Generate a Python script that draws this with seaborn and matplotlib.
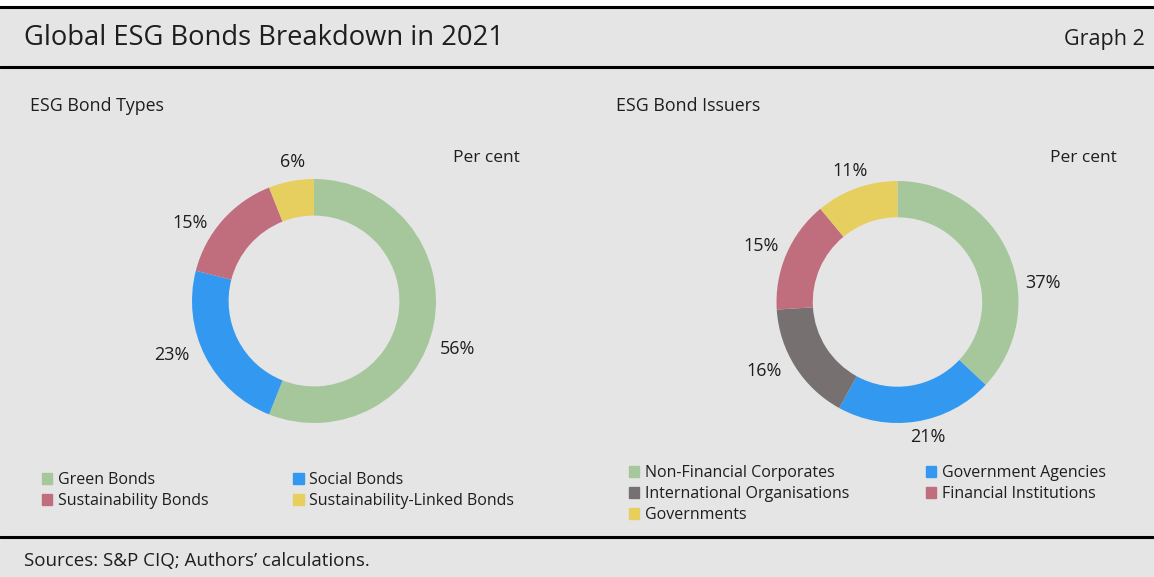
import numpy as np
import matplotlib
matplotlib.use("Agg")
import matplotlib.pyplot as plt
from matplotlib.lines import Line2D
from matplotlib.patches import Patch, Rectangle
import seaborn as sns

# ESG bond types, 2021 (per cent)
type_labels = ["Green Bonds", "Social Bonds", "Sustainability Bonds", "Sustainability-Linked Bonds"]
type_values = [56, 23, 15, 6]

# ESG bond issuers, 2021 (per cent)
issuer_labels = ["Non-Financial Corporates", "Government Agencies", "International Organisations",
                 "Financial Institutions", "Governments"]
issuer_values = [37, 21, 16, 15, 11]

GREEN = "#a5c79b"
BLUE = "#3399f0"
RED = "#c06e7d"
YELLOW = "#e6cf5f"
GREY = "#767070"
BG = "#e6e5e6"
INK = "#1e1e1e"

type_colors = [GREEN, BLUE, RED, YELLOW]
issuer_colors = [GREEN, BLUE, GREY, RED, YELLOW]

# label placement around each ring: angular nudge (deg) and radial distance (x radius)
type_label_nudge = [-7.7, -6.2, 9.4, -1.9]
type_label_dist = [1.24, 1.25, 1.20, 1.15]
issuer_label_nudge = [-16.0, 3.5, -5.1, 1.2, 0.2]
issuer_label_dist = [1.21, 1.14, 1.24, 1.22, 1.15]

sns.set_theme(style="white")
plt.rcParams["font.family"] = ["Open Sans", "DejaVu Sans"]

W, H = 1154, 577
fig = plt.figure(figsize=(W / 100, H / 100), dpi=100, facecolor=BG)


def fx(px):
    return px / W


def fy(py):
    return 1 - py / H


# white strip above the top rule
fig.add_artist(Rectangle((0, fy(6)), 1, 1 - fy(6), transform=fig.transFigure,
                         facecolor="white", edgecolor="none", zorder=0))
for y in (7, 66.5, 537):
    fig.add_artist(Line2D([0, 1], [fy(y), fy(y)], transform=fig.transFigure,
                          color="black", lw=2.2))

fig.text(fx(24), fy(38), "Global ESG Bonds Breakdown in 2021", fontsize=19.7,
         color=INK, va="center", ha="left")
fig.text(fx(1145), fy(40), "Graph 2", fontsize=15.5, color=INK, va="center", ha="right")
fig.text(fx(24), fy(561), "Sources: S&P CIQ; Authors\u2019 calculations.", fontsize=13.5,
         color=INK, va="center", ha="left")

fig.text(fx(30), fy(106), "ESG Bond Types", fontsize=12.8, color=INK, va="center")
fig.text(fx(616), fy(106), "ESG Bond Issuers", fontsize=12.8, color=INK, va="center")
fig.text(fx(520), fy(158), "Per cent", fontsize=12.5, color=INK, va="center", ha="right")
fig.text(fx(1117), fy(158), "Per cent", fontsize=12.5, color=INK, va="center", ha="right")


def donut(cx, cy, r, values, colors, nudges, dists):
    span = 1.5
    ax = fig.add_axes([fx(cx - span * r), fy(cy + span * r), 2 * span * r / W, 2 * span * r / H])
    ax.set_facecolor("none")
    wedges, _ = ax.pie(values, colors=colors, startangle=90, counterclock=False,
                       radius=1.0, wedgeprops=dict(width=0.30, edgecolor="none"))
    for w, v, dn, d in zip(wedges, values, nudges, dists):
        mid = np.deg2rad((w.theta1 + w.theta2) / 2 + dn)
        ax.text(d * np.cos(mid), d * np.sin(mid), f"{v}%", ha="center", va="center",
                fontsize=13, color=INK)
    ax.set_xlim(-span, span)
    ax.set_ylim(-span, span)
    ax.set_aspect("equal")
    ax.axis("off")
    return ax


donut(314, 301, 122, type_values, type_colors, type_label_nudge, type_label_dist)
donut(897.5, 302, 121, issuer_values, issuer_colors, issuer_label_nudge, issuer_label_dist)

legend_kw = dict(ncol=2, frameon=False, fontsize=11.5, handlelength=0.65, handleheight=0.65,
                 handletextpad=0.35, labelspacing=0.32, borderaxespad=0, borderpad=0,
                 labelcolor=INK)

# legend entries are filled column by column, so order them to read row by row
t_order = [0, 2, 1, 3]
fig.legend([Patch(color=type_colors[i]) for i in t_order], [type_labels[i] for i in t_order],
           loc="upper left", bbox_to_anchor=(fx(42), fy(472)), columnspacing=5.3, **legend_kw)

i_order = [0, 2, 4, 1, 3]
fig.legend([Patch(color=issuer_colors[i]) for i in i_order], [issuer_labels[i] for i in i_order],
           loc="upper left", bbox_to_anchor=(fx(629), fy(465)), columnspacing=4.8, **legend_kw)

fig.savefig("out.png", dpi=100, facecolor=BG)
